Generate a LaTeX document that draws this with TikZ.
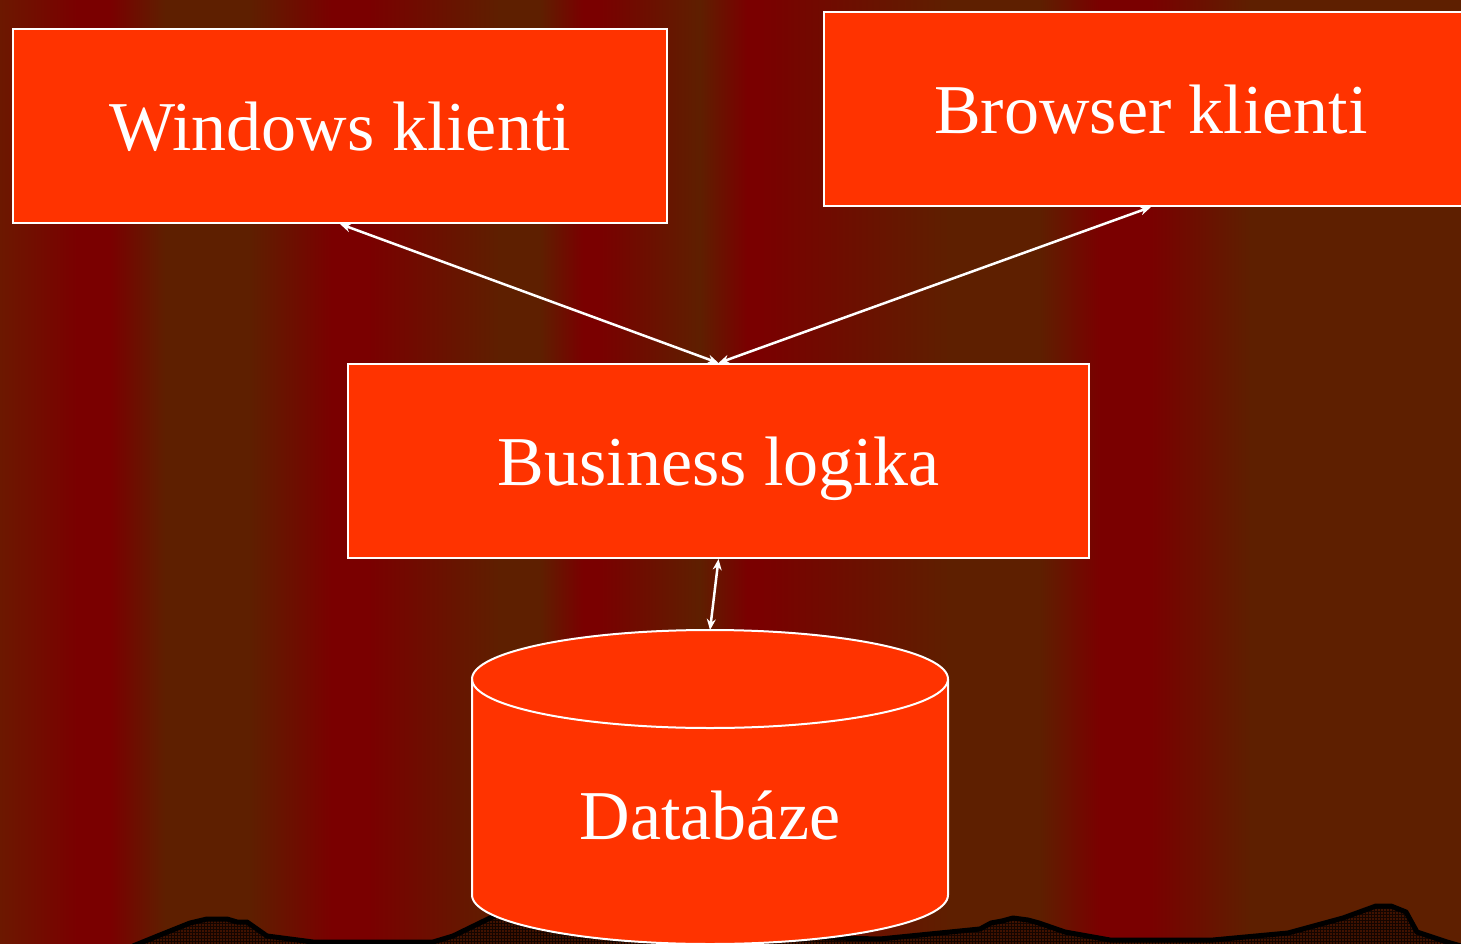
\documentclass[tikz,border=0pt]{standalone}
\usepackage{fontspec}
\setmainfont{Liberation Serif}
\usetikzlibrary{arrows.meta,patterns}
\definecolor{bgbrown}{RGB}{94,31,0}
\definecolor{bgred}{RGB}{122,0,0}
\definecolor{bgmid}{RGB}{108,24,0}
\definecolor{boxfill}{RGB}{255,51,0}
\definecolor{hill}{RGB}{64,18,0}
\definecolor{hillgrid}{RGB}{20,5,0}
\begin{document}
\begin{tikzpicture}[x=1pt,y=-1pt,
  box/.style={draw=white, line width=2pt, fill=boxfill, text=white,
    font=\fontsize{70}{84}\selectfont, inner sep=0pt, text depth=0pt,
    minimum height=194pt},
  link/.style={white, line width=2.5pt,
    {Stealth[length=11pt,width=9pt]}-{Stealth[length=11pt,width=9pt]}},
  dbtext/.style={text=white, font=\fontsize{70}{84}\selectfont, inner sep=0pt, text depth=0pt}
]
\useasboundingbox (0,0) rectangle (1461,944);
% background stripes
\shade[left color=bgmid,right color=bgred] (0,0) rectangle (77,944);
\fill[bgred] (76.5,0) rectangle (110.5,944);
\shade[left color=bgred,right color=bgbrown] (110,0) rectangle (165,944);
\fill[bgbrown] (164.5,0) rectangle (250.5,944);
\shade[left color=bgbrown,right color=bgred] (250,0) rectangle (332,944);
\fill[bgred] (331.5,0) rectangle (368.5,944);
\shade[left color=bgred,right color=bgbrown] (368,0) rectangle (500,944);
\fill[bgbrown] (499.5,0) rectangle (540.5,944);
\shade[left color=bgbrown,right color=bgred] (540,0) rectangle (583,944);
\fill[bgred] (582.5,0) rectangle (598.5,944);
\shade[left color=bgred,right color=bgbrown] (598,0) rectangle (700,944);
\shade[left color=bgbrown,right color=bgred] (699.5,0) rectangle (747,944);
\fill[bgred] (746.5,0) rectangle (760.5,944);
\shade[left color=bgred,right color=bgbrown] (760,0) rectangle (950,944);
\fill[bgbrown] (949.5,0) rectangle (1040.5,944);
\shade[left color=bgbrown,right color=bgred] (1040,0) rectangle (1100,944);
\fill[bgred] (1099.5,0) rectangle (1148.5,944);
\shade[left color=bgred,right color=bgbrown] (1148,0) rectangle (1250,944);
\fill[bgbrown] (1249.5,0) rectangle (1461,944);
% hills
\def\hillline{(133,946) -- (160,935) -- (190,923) -- (207,919) -- (227,919) -- (237,922) -- (247,922) -- (267,936) -- (313,942) -- (433,942) -- (453,936) -- (490,918) -- (520,906) -- (600,930) -- (700,935) -- (880,939) -- (980,929) -- (991,923) -- (1002,921) -- (1013,918) -- (1028,920) -- (1039,923) -- (1065,932) -- (1110,940) -- (1213,940) -- (1288,933) -- (1343,918) -- (1376,906) -- (1391,906) -- (1406,912) -- (1417,932) -- (1447,942) -- (1461,946)}
\fill[hill] \hillline -- (1461,950) -- (133,950) -- cycle;
\fill[pattern=grid, pattern color=hillgrid] \hillline -- (1461,950) -- (133,950) -- cycle;
\draw[black, line width=5pt, line join=round] \hillline;
% boxes
\node[box, minimum width=654pt] (win) at (340,126) {Windows klienti};
\node[box, minimum width=654pt] (brw) at (1151,109) {Browser klienti};
\node[box, minimum width=741pt] (biz) at (718.5,461) {Business logika};
% database cylinder
\fill[boxfill] (472,679) rectangle (948,895);
\fill[boxfill] (710,679) ellipse [x radius=238, y radius=49];
\fill[boxfill] (710,895) ellipse [x radius=238, y radius=49];
\draw[white, line width=2pt] (710,679) ellipse [x radius=238, y radius=49];
\draw[white, line width=2pt, line join=round] (472,679) -- (472,895) arc[start angle=180, end angle=0, x radius=238, y radius=49] -- (948,679);
\node[dbtext] (db) at (710,815) {Databáze};
\coordinate (dbtop) at (710,630);
% connectors
\draw[link] (win.south) -- (biz.north);
\draw[link] (brw.south) -- (biz.north);
\draw[link] (biz.south) -- (dbtop);
\end{tikzpicture}
\end{document}
